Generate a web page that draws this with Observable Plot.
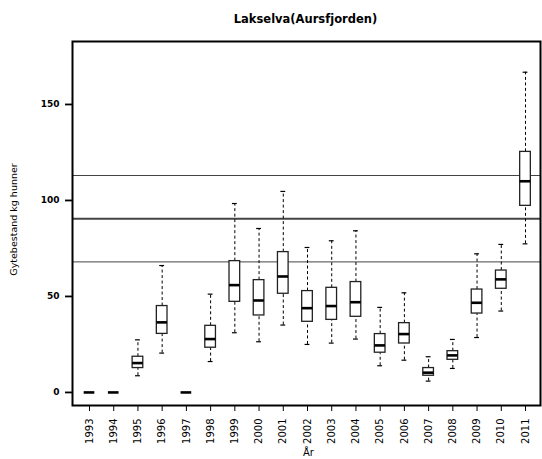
<!DOCTYPE html>
<html>
<head>
<meta charset="utf-8">
<script src="https://cdn.jsdelivr.net/npm/d3@7"></script>
<script src="https://cdn.jsdelivr.net/npm/@observablehq/plot@0.6"></script>
<style>
  html, body { margin: 0; padding: 0; background: #fff; }
</style>
</head>
<body>
<div id="chart"></div>
<script>
const title = "Lakselva(Aursfjorden)";
const yLabel = "Gytebestand kg hunner";
const xLabel = "År";
const years = [1993,1994,1995,1996,1997,1998,1999,2000,2001,2002,2003,2004,2005,2006,2007,2008,2009,2010,2011];
const wLow  = [0,0,8.7,20.5,0,16.1,31.1,26.4,35.1,25.0,25.7,27.8,13.9,16.8,5.9,12.5,28.6,42.4,77.4];
const q1    = [0,0,12.7,30.5,0,23.3,47.2,40.1,51.4,36.8,37.8,39.4,20.7,25.5,8.7,17.0,41.1,54.0,97.2];
const med   = [0,0,15.3,36.5,0,27.8,55.9,47.9,60.4,43.9,45.0,47.0,24.5,30.4,10.3,19.3,46.7,58.9,110.0];
const q3    = [0,0,18.6,45.0,0,34.7,68.4,58.5,73.1,52.8,54.5,57.5,30.4,36.1,12.7,21.5,53.6,63.5,125.3];
const wHigh = [0,0,27.4,66.1,0,51.2,98.4,85.4,104.7,75.5,79.0,84.2,44.3,51.9,18.6,27.6,72.2,77.1,166.8];
const yTicks = [0, 50, 100, 150];
const refLines = [68, 90.5, 113];
const refWidths = [1, 2, 1];

const data = years.map((y, i) => ({year: y, lo: wLow[i], q1: q1[i], med: med[i], q3: q3[i], hi: wHigh[i]}));
const withWhiskers = data.filter(d => d.hi > d.q3);
const refs = refLines.map((v, i) => ({v, w: refWidths[i]}));

const halfBox = 0.22, halfCap = 0.1;

const chart = Plot.plot({
  width: 542,
  height: 459,
  marginLeft: 72,
  marginRight: 2,
  marginTop: 41,
  marginBottom: 54,
  style: {fontFamily: "'DejaVu Sans', sans-serif", fontSize: "10px", background: "#fff", color: "#000"},
  x: {type: "linear", domain: [1992.298, 2011.619]},
  y: {domain: [-6.8, 182.8]},
  marks: [
    Plot.ruleY(refs, {y: "v", strokeWidth: "w", stroke: "#444"}),
    // whiskers
    Plot.ruleX(withWhiskers, {x: "year", y1: "q3", y2: "hi", stroke: "#000", strokeWidth: 1, strokeDasharray: "3,2.5"}),
    Plot.ruleX(withWhiskers, {x: "year", y1: "lo", y2: "q1", stroke: "#000", strokeWidth: 1, strokeDasharray: "3,2.5"}),
    // caps
    Plot.ruleY(withWhiskers, {y: "hi", x1: d => d.year - halfCap, x2: d => d.year + halfCap, stroke: "#000", strokeWidth: 1.2}),
    Plot.ruleY(withWhiskers, {y: "lo", x1: d => d.year - halfCap, x2: d => d.year + halfCap, stroke: "#000", strokeWidth: 1.2}),
    // boxes
    Plot.rect(withWhiskers, {x1: d => d.year - halfBox, x2: d => d.year + halfBox, y1: "q1", y2: "q3", fill: "#fff", stroke: "#222", strokeWidth: 1.3}),
    // medians
    Plot.ruleY(data, {y: "med", x1: d => d.year - halfBox, x2: d => d.year + halfBox, stroke: "#000", strokeWidth: 2.6}),
    Plot.frame({stroke: "#000", strokeWidth: 2}),
    Plot.axisY(yTicks, {tickSize: 7, tickPadding: 6, strokeWidth: 1.8, fontWeight: "bold", fontSize: 9, label: null}),
    Plot.axisX(years, {tickSize: 6, tickPadding: 7, tickRotate: -90, tickFormat: d => String(d), strokeWidth: 1, fontSize: 10, label: null}),
    Plot.text([title], {frameAnchor: "top", dx: -1, dy: -19, lineAnchor: "bottom", fontWeight: "bold", fontSize: 11.5}),
    Plot.text([yLabel], {frameAnchor: "left", textAnchor: "middle", lineAnchor: "middle", dx: -59, dy: -4, rotate: -90, fontSize: 9.5, fill: "#000"}),
    Plot.text([xLabel], {frameAnchor: "bottom", dx: 2, dy: 47, lineAnchor: "middle", fontSize: 10})
  ]
});
document.getElementById("chart").appendChild(chart);
</script>
</body>
</html>
